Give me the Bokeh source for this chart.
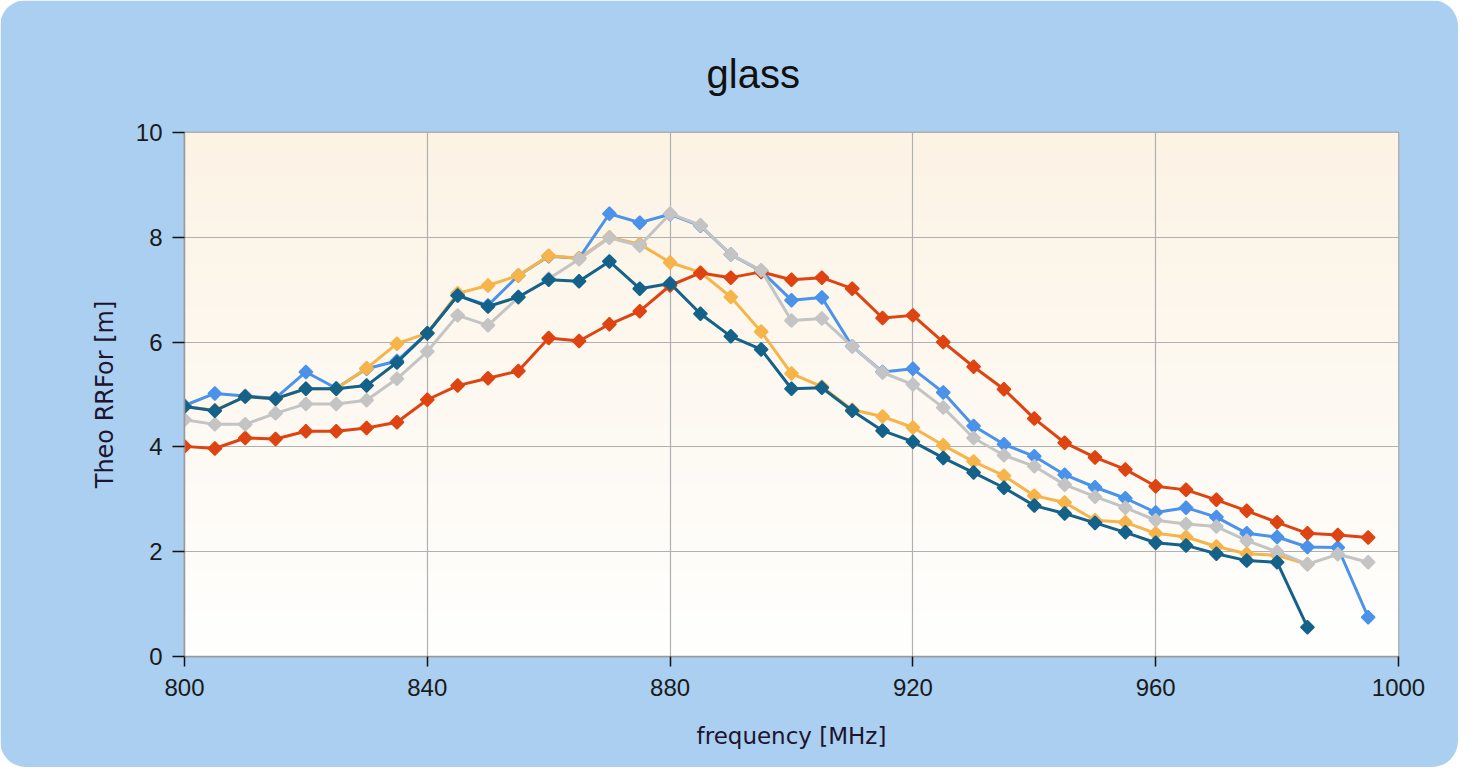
import numpy as np
from bokeh.plotting import figure
from bokeh.models import FixedTicker, Range1d, Title
from bokeh.embed import file_html
from bokeh.resources import INLINE

freq = [800, 805, 810, 815, 820, 825, 830, 835, 840, 845,
        850, 855, 860, 865, 870, 875, 880, 885, 890, 895,
        900, 905, 910, 915, 920, 925, 930, 935, 940, 945,
        950, 955, 960, 965, 970, 975, 980, 985, 990, 995]

NA = float("nan")

s_blue = [4.79, 5.02, 4.97, 4.93, 5.43, 5.12, 5.49, 5.64, 6.17, 6.89,
          6.70, 7.27, 7.64, 7.60, 8.45, 8.28, 8.44, 8.22, 7.67, 7.36,
          6.80, 6.85, 5.92, 5.43, 5.49, 5.04, 4.40, 4.05, 3.82, 3.47,
          3.23, 3.02, 2.75, 2.84, 2.66, 2.35, 2.28, 2.09, 2.08, 0.75]

s_orange = [4.77, 4.70, 4.96, 4.92, 5.11, 5.11, 5.50, 5.97, 6.17, 6.93,
            7.08, 7.27, 7.65, 7.60, 8.00, 7.87, 7.52, 7.33, 6.86, 6.20,
            5.40, 5.15, 4.71, 4.58, 4.37, 4.03, 3.72, 3.45, 3.07, 2.94,
            2.60, 2.56, 2.35, 2.28, 2.10, 1.96, 1.93, 1.76, NA, NA]

s_red = [4.01, 3.97, 4.17, 4.15, 4.30, 4.30, 4.36, 4.47, 4.90, 5.17,
         5.31, 5.45, 6.08, 6.02, 6.34, 6.59, 7.08, 7.32, 7.23, 7.34,
         7.19, 7.23, 7.02, 6.46, 6.51, 6.00, 5.53, 5.10, 4.54, 4.08,
         3.80, 3.57, 3.25, 3.18, 2.99, 2.78, 2.56, 2.35, 2.32, 2.27]

s_gray = [4.52, 4.43, 4.43, 4.64, 4.82, 4.82, 4.89, 5.30, 5.82, 6.51,
          6.32, 6.85, 7.21, 7.58, 7.99, 7.84, 8.45, 8.23, 7.67, 7.37,
          6.41, 6.45, 5.92, 5.42, 5.19, 4.75, 4.17, 3.84, 3.63, 3.28,
          3.05, 2.84, 2.60, 2.53, 2.48, 2.21, 2.00, 1.76, 1.95, 1.80]

s_teal = [4.77, 4.69, 4.96, 4.92, 5.11, 5.11, 5.17, 5.61, 6.17, 6.89,
          6.68, 6.86, 7.19, 7.16, 7.54, 7.02, 7.12, 6.54, 6.11, 5.86,
          5.11, 5.13, 4.69, 4.31, 4.10, 3.79, 3.51, 3.22, 2.88, 2.73,
          2.55, 2.37, 2.17, 2.12, 1.96, 1.83, 1.80, 0.56, NA, NA]

x_ticks = [800, 840, 880, 920, 960, 1000]
y_ticks = [0, 2, 4, 6, 8, 10]

series = [
    (s_blue, "#4a92ea"),
    (s_orange, "#f6b44a"),
    (s_red, "#de4412"),
    (s_gray, "#c4c4c4"),
    (s_teal, "#14628a"),
]

PANEL = "#aacff0"

p = figure(width=1458, height=767, output_backend="svg", toolbar_location=None,
           x_range=Range1d(800, 1000), y_range=Range1d(0, 10),
           min_border_left=184, min_border_right=60,
           min_border_top=132, min_border_bottom=111,
           border_fill_color=PANEL, background_fill_color="#fefcf8",
           outline_line_color="#9a9a9a", outline_line_width=1.5)
p.styles = {"border-radius": "26px", "overflow": "hidden"}

p.title = Title(text="glass", align="left", offset=522, standoff=74,
                text_font="Liberation Sans", text_font_size="40px",
                text_font_style="normal", text_color="#111111")

# gradient background of the plot area (cream at top to white at bottom)
n = 120
img = np.zeros((n, 2), dtype=np.uint32)
view = img.view(dtype=np.uint8).reshape((n, 2, 4))
top = np.array([252, 243, 229])
bot = np.array([255, 255, 254])
for i in range(n):
    t = i / (n - 1)
    c = bot + (top - bot) * t
    view[i, :, 0] = int(c[0])
    view[i, :, 1] = int(c[1])
    view[i, :, 2] = int(c[2])
    view[i, :, 3] = 255
r_img = p.image_rgba(image=[img], x=800, y=0, dw=200, dh=10)
r_img.level = "image"

for vals, col in series:
    p.line(freq, vals, line_color=col, line_width=3)
    p.scatter(freq, vals, marker="square", angle=np.pi / 4, size=9.5,
              fill_color=col, line_color=col, line_width=1.5)

p.xaxis.ticker = FixedTicker(ticks=x_ticks)
p.yaxis.ticker = FixedTicker(ticks=y_ticks)
p.xaxis.axis_label = "frequency [MHz]"
p.yaxis.axis_label = "Theo RRFor [m]"

for ax in (p.xaxis, p.yaxis):
    ax.axis_line_color = "#9a9a9a"
    ax.axis_line_width = 1.5
    ax.major_tick_line_color = "#111111"
    ax.major_tick_line_width = 1.5
    ax.major_tick_in = 0
    ax.minor_tick_line_color = None
    ax.major_label_text_font = "Liberation Sans"
    ax.major_label_text_font_size = "24px"
    ax.major_label_text_color = "#1a1a1a"
    ax.axis_label_text_font = "DejaVu Sans"
    ax.axis_label_text_font_style = "normal"
    ax.axis_label_text_color = "#1e1430"

p.yaxis.axis_label_text_font_size = "24px"
p.xaxis.axis_label_text_font_size = "23px"
p.yaxis.major_tick_out = 12
p.yaxis.major_label_standoff = 10
p.yaxis.axis_label_standoff = 14
p.xaxis.major_tick_out = 10
p.xaxis.major_label_standoff = 12
p.xaxis.axis_label_standoff = 24

p.grid.grid_line_color = "#b0b0b0"
p.grid.grid_line_width = 1.2

open("out.html", "w").write(file_html(p, INLINE))
